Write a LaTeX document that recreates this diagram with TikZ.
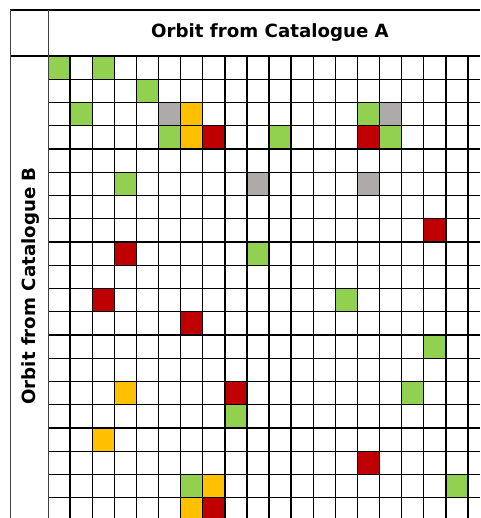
\documentclass[tikz,border=0pt]{standalone}
\usepackage{fontspec}
\setmainfont{DejaVu Sans}
\usepackage{tikz}
\usetikzlibrary{positioning}

\definecolor{cellgreen}{RGB}{146,208,80}
\definecolor{cellorange}{RGB}{255,192,0}
\definecolor{cellred}{RGB}{192,0,0}
\definecolor{cellgrey}{RGB}{174,170,170}

\begin{document}
\begin{tikzpicture}[x=1pt,y=-1pt,line width=1.4pt]
 \tikzstyle{grid line}=[draw=black,line width=1.4pt]
 \tikzstyle{frame line}=[draw=black!75,line width=1pt]
 \tikzset{
 	green cell/.style={fill=cellgreen},
 	orange cell/.style={fill=cellorange},
 	red cell/.style={fill=cellred},
 	grey cell/.style={fill=cellgrey},
 	title text/.style={font=\fontsize{18.2}{21}\selectfont\bfseries,inner sep=0}
 }
 \useasboundingbox (0,0) rectangle (480,518);
 \clip (0,0) rectangle (480,518);

       % cells: column/row
       \foreach \c/\r in {1/1,3/1,5/2,2/3,15/3,6/4,11/4,16/4,4/6,10/9,14/11,18/13,17/15,9/16,7/19,19/19}
         \fill[green cell] (48+22.1*\c-22.1,56+23.25*\r-23.25) rectangle ++(22.1,23.25);
       \foreach \c/\r in {6/3,16/3,10/6,15/6}
         \fill[grey cell] (48+22.1*\c-22.1,56+23.25*\r-23.25) rectangle ++(22.1,23.25);
       \foreach \c/\r in {7/3,7/4,4/15,3/17,8/19,7/20}
         \fill[orange cell] (48+22.1*\c-22.1,56+23.25*\r-23.25) rectangle ++(22.1,23.25);
       \foreach \c/\r in {8/4,15/4,18/8,4/9,3/11,7/12,9/15,15/18,8/20}
         \fill[red cell] (48+22.1*\c-22.1,56+23.25*\r-23.25) rectangle ++(22.1,23.25);

       % grid
       \foreach \k in {1,...,20}
         \draw[grid line] (48+22.1*\k,56) -- (48+22.1*\k,518);
       \foreach \k in {1,...,20}
         \draw[grid line] (48,56+23.25*\k) -- (480,56+23.25*\k);

       % frame
       \draw[grid line] (10,10) -- (480,10);
       \draw[grid line] (10,56) -- (480,56);
       \draw[frame line] (10,10) -- (10,518);
       \draw[frame line] (48,10) -- (48,518);

       \node[title text] (titleA) at (270,33) {Orbit from Catalogue A};
       \node[title text,rotate=90] (titleB) at (31,286) {Orbit from Catalogue B};
 \end{tikzpicture}
\end{document}
